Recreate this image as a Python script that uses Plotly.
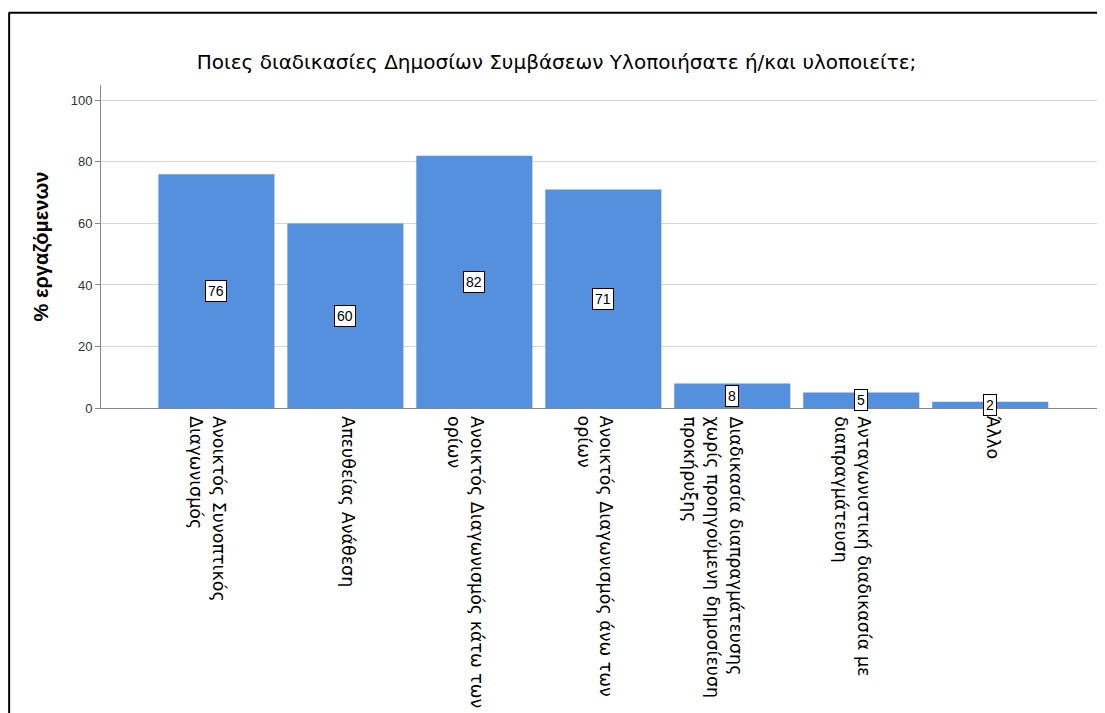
import plotly.graph_objects as go

categories = [
    "Ανοικτός Συνοπτικός<br>Διαγωνισμός",
    "Απευθείας Ανάθεση",
    "Ανοικτός Διαγωνισμός κάτω των<br>ορίων",
    "Ανοικτός Διαγωνισμός άνω των<br>ορίων",
    "Διαδικασία διαπραγμάτευσης<br>χωρίς προηγούμενη δημοσίευση<br>προκήρυξης",
    "Ανταγωνιστική διαδικασία με<br>διαπραγμάτευση",
    "Άλλο",
]
percent = [76, 60, 82, 71, 8, 5, 2]
y_ticks = [0, 20, 40, 60, 80, 100]

BLUE = "#5590de"
LABEL_SIZE = 17.5
x_pos = list(range(len(categories)))

fig = go.Figure()
fig.add_trace(go.Bar(
    x=x_pos,
    y=percent,
    width=0.9,
    marker=dict(color=BLUE, line=dict(width=0)),
    hoverinfo="skip",
))

# value boxes in the middle of each bar
for xi, v in zip(x_pos, percent):
    fig.add_annotation(
        x=xi, y=v / 2, text=str(v), showarrow=False,
        font=dict(family="Liberation Sans, Arial", size=14, color="black"),
        bgcolor="white", bordercolor="black", borderwidth=1, borderpad=2,
    )

# category labels, rotated, first line on the category centre
line_h = LABEL_SIZE * 1.3
for xi, lab in zip(x_pos, categories):
    n_lines = lab.count("<br>") + 1
    fig.add_annotation(
        x=xi, y=0, xref="x", yref="y",
        text=lab, showarrow=False, textangle=90,
        xanchor="center", yanchor="top", align="left",
        xshift=-(n_lines - 1) * line_h / 2 + 3, yshift=-6,
        font=dict(family="DejaVu Sans", size=LABEL_SIZE, color="black"),
    )

# frame like the SPSS output window
fig.add_shape(type="line", xref="paper", yref="paper",
              x0=-0.092, x1=1.0, y0=1.224, y1=1.224,
              line=dict(color="black", width=2))
fig.add_shape(type="line", xref="paper", yref="paper",
              x0=-0.0915, x1=-0.0915, y0=1.224, y1=-1.2,
              line=dict(color="black", width=2))

fig.update_layout(
    width=1097,
    height=705,
    margin=dict(l=93, r=0, t=77, b=305),
    plot_bgcolor="white",
    paper_bgcolor="white",
    showlegend=False,
    title=dict(
        text="Ποιες διαδικασίες Δημοσίων Συμβάσεων Υλοποιήσατε ή/και υλοποιείτε;",
        x=0.5, xref="container", xanchor="center",
        y=0.923, yanchor="middle",
        font=dict(family="DejaVu Sans", size=20, color="black"),
    ),
    xaxis=dict(
        range=[-0.895, 6.89],
        tickvals=x_pos,
        showticklabels=False,
        showgrid=False,
        showline=True,
        linecolor="#888888",
        linewidth=1,
        ticks="",
        zeroline=False,
    ),
    yaxis=dict(
        range=[0, 105],
        tickvals=y_ticks,
        tickfont=dict(family="Liberation Sans, Arial", size=13, color="#333333"),
        showgrid=True,
        gridcolor="#d6d6d6",
        gridwidth=1,
        showline=True,
        linecolor="#888888",
        linewidth=1,
        ticks="outside",
        ticklen=5,
        tickcolor="#888888",
        zeroline=False,
        title=dict(
            text="<b>% εργαζόμενων</b>",
            font=dict(family="Liberation Sans, Arial", size=20, color="black"),
            standoff=16,
        ),
    ),
)

fig.write_html("out.html")
